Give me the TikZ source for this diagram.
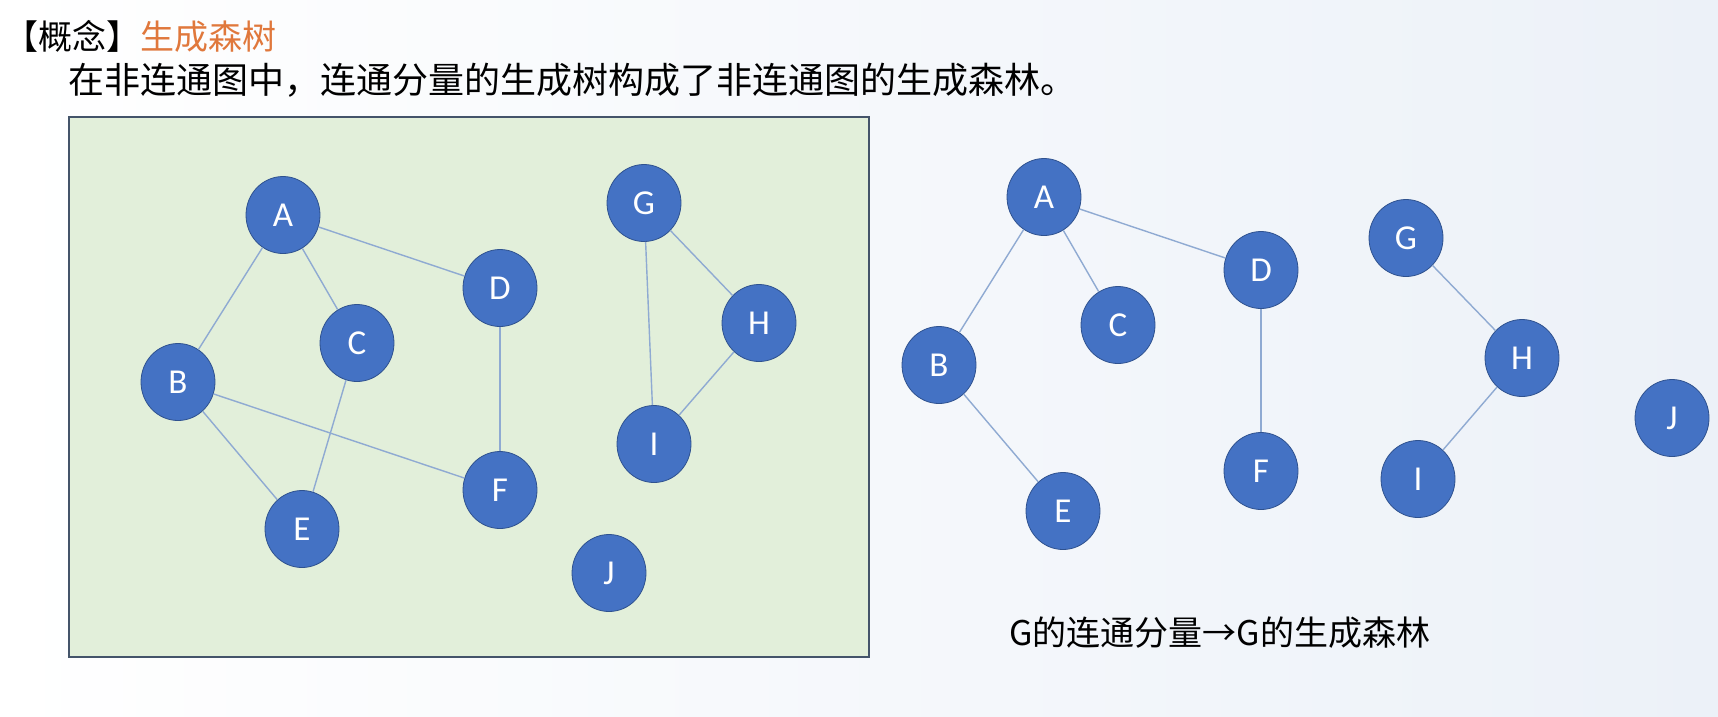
\documentclass[tikz,border=0pt]{standalone}
\usepackage{fontspec}
\usetikzlibrary{shapes.geometric}
\setsansfont{Carlito}
\newfontfamily\cjk{Noto Sans CJK SC}
\definecolor{nodeblue}{RGB}{68,114,196}
\definecolor{nodeline}{RGB}{47,82,143}
\definecolor{edgeblue}{RGB}{143,170,210}
\definecolor{boxgreen}{RGB}{226,239,218}
\definecolor{boxline}{RGB}{68,84,106}
\definecolor{titleorange}{RGB}{224,120,60}
\definecolor{bgblue}{RGB}{236,241,248}

\begin{document}
\begin{tikzpicture}[
  x=1pt, y=-1pt,
  vertex/.style={ellipse, draw=nodeline, line width=0.8pt, fill=nodeblue, minimum width=74pt, minimum height=77pt, inner sep=0pt, text=white, font=\sffamily\fontsize{35}{40}\selectfont},
  link/.style={draw=edgeblue, line width=1.4pt},
  caption/.style={anchor=west, inner sep=0pt, font=\cjk}
]
\useasboundingbox (0,0) rectangle (1718,716);
\shade[left color=white, middle color=white, right color=bgblue] (0,0) rectangle (1718,716);

% title lines
\node[caption, font=\cjk\fontsize{34}{40}\selectfont] (title) at (4,36) {【概念】\textcolor{titleorange}{生成森树}};
\node[caption, font=\cjk\fontsize{36}{42}\selectfont] (define) at (68,80) {在非连通图中，连通分量的生成树构成了非连通图的生成森林。};

% non-connected graph
\draw[boxline, line width=1.5pt, fill=boxgreen] (69,117) rectangle (869,657);
\node[vertex] (lA) at (283,215) {A};
\node[vertex] (lB) at (178,382) {B};
\node[vertex] (lC) at (357,343) {C};
\node[vertex] (lD) at (500,288) {D};
\node[vertex] (lE) at (302,529) {E};
\node[vertex] (lF) at (500,490) {F};
\node[vertex] (lG) at (644,203) {G};
\node[vertex] (lH) at (759,323) {H};
\node[vertex] (lI) at (654,444) {I};
\node[vertex] (lJ) at (609,573) {J};

\draw[link] (lA) -- (lB);
\draw[link] (lA) -- (lC);
\draw[link] (lA) -- (lD);
\draw[link] (lB) -- (lE);
\draw[link] (lB) -- (lF);
\draw[link] (lC) -- (lE);
\draw[link] (lD) -- (lF);
\draw[link] (lG) -- (lH);
\draw[link] (lG) -- (lI);
\draw[link] (lH) -- (lI);

% spanning forest
\node[vertex] (rA) at (1044,197) {A};
\node[vertex] (rB) at (939,365) {B};
\node[vertex] (rC) at (1118,325) {C};
\node[vertex] (rD) at (1261,270) {D};
\node[vertex] (rE) at (1063,511) {E};
\node[vertex] (rF) at (1261,471) {F};
\node[vertex] (rG) at (1406,238) {G};
\node[vertex] (rH) at (1522,358) {H};
\node[vertex] (rI) at (1418,479) {I};
\node[vertex] (rJ) at (1672,418) {J};

\draw[link] (rA) -- (rB);
\draw[link] (rA) -- (rC);
\draw[link] (rA) -- (rD);
\draw[link] (rB) -- (rE);
\draw[link] (rD) -- (rF);
\draw[link] (rG) -- (rH);
\draw[link] (rH) -- (rI);

\node[caption, font=\cjk\fontsize{34}{40}\selectfont] (result) at (1009,633) {G的连通分量→G的生成森林};
\end{tikzpicture}
\end{document}
